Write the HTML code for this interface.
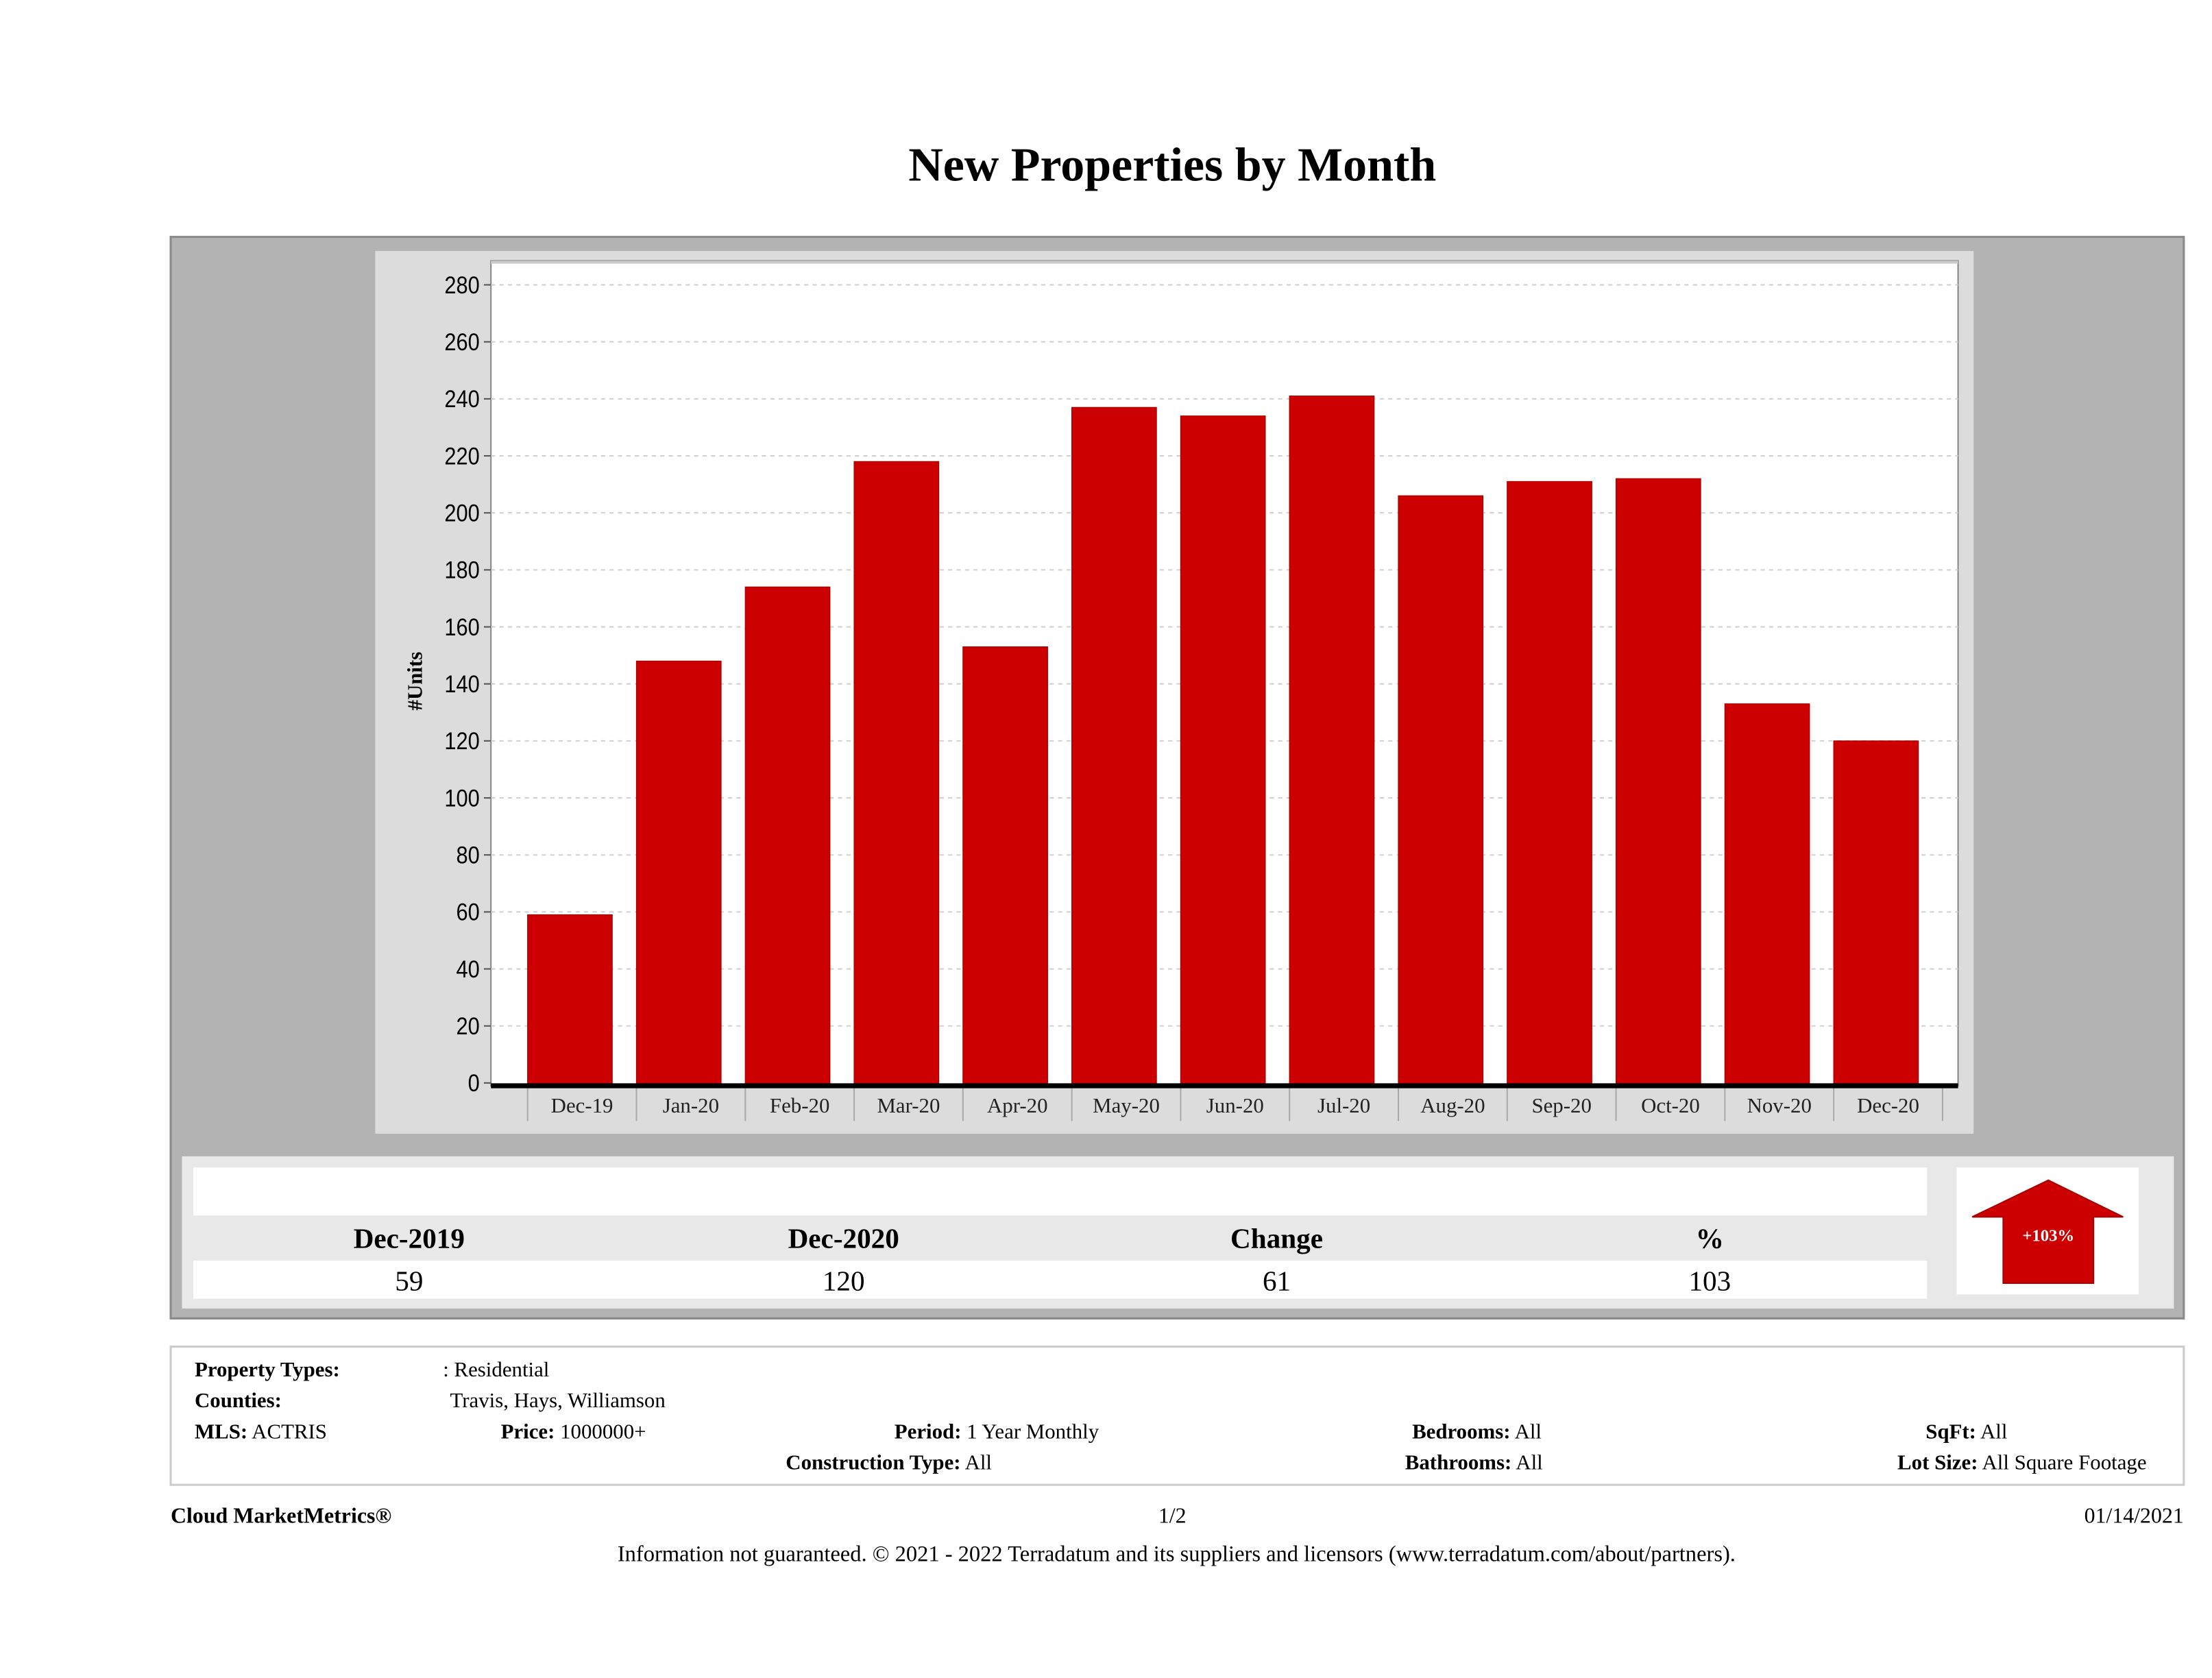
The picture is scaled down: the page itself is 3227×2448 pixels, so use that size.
<!DOCTYPE html>
<html><head><meta charset="utf-8"><style>
html,body{margin:0;padding:0;background:#fff;}
svg{display:block;}
text{font-family:"Liberation Serif",serif;}
.sans{font-family:"Liberation Sans",sans-serif;}
</style></head><body>
<svg id="page" width="3227" height="2448" viewBox="0 0 1568 1190" preserveAspectRatio="none" xmlns="http://www.w3.org/2000/svg">
<text x="831" y="128" text-anchor="middle" font-size="34" font-weight="bold" fill="#000">New Properties by Month</text>
<rect x="121" y="168" width="1427" height="767" fill="#b3b3b3" stroke="#8a8a8a" stroke-width="1.5"/>
<rect x="266" y="178" width="1133" height="626" fill="#dcdcdc"/>
<rect x="348" y="185" width="1040" height="585" fill="#fff" stroke="#888" stroke-width="1"/>
<line x1="348" y1="186" x2="1388" y2="186" stroke="#ccc" stroke-width="2"/>
<g id="grid"></g>
<g id="bars"></g>
<g id="yaxis"></g>
<g id="xaxis"></g>
<text x="0" y="0" transform="translate(299,483) rotate(-90)" text-anchor="middle" font-size="15" font-weight="bold">#Units</text>

<rect x="129" y="820" width="1412" height="108" fill="#e8e8e8"/>
<rect x="137" y="828" width="1229" height="34" fill="#fff"/>
<rect x="137" y="894" width="1229" height="27" fill="#fff"/>
<g font-size="20" font-weight="bold" text-anchor="middle">
<text x="290" y="885">Dec-2019</text>
<text x="598" y="885">Dec-2020</text>
<text x="905" y="885">Change</text>
<text x="1212" y="885">%</text>
</g>
<g font-size="20" text-anchor="middle">
<text x="290" y="915">59</text>
<text x="598" y="915">120</text>
<text x="905" y="915">61</text>
<text x="1212" y="915">103</text>
</g>
<rect x="1387" y="828" width="129" height="90" fill="#fff"/>
<polygon points="1452,837 1505,863 1484,863 1484,910 1420,910 1420,863 1398,863" fill="#cc0000" stroke="#a00" stroke-width="1"/>
<text x="1452" y="880" text-anchor="middle" font-size="12" font-weight="bold" fill="#fff">+103%</text>

<rect x="121" y="955" width="1427" height="98" fill="#fff" stroke="#ccc" stroke-width="1.5"/>
<g font-size="15">
<text x="138" y="976" font-weight="bold">Property Types:</text>
<text x="314" y="976">: Residential</text>
<text x="138" y="998" font-weight="bold">Counties:</text>
<text x="319" y="998">Travis, Hays, Williamson</text>
<text x="138" y="1020"><tspan font-weight="bold">MLS:</tspan>   ACTRIS</text>
<text x="355" y="1020"><tspan font-weight="bold">Price:</tspan> 1000000+</text>
<text x="634" y="1020"><tspan font-weight="bold">Period:</tspan> 1 Year Monthly</text>
<text x="557" y="1042"><tspan font-weight="bold">Construction Type:</tspan> All</text>
<text x="1001" y="1020"><tspan font-weight="bold">Bedrooms:</tspan> All</text>
<text x="996" y="1042"><tspan font-weight="bold">Bathrooms:</tspan> All</text>
<text x="1365" y="1020"><tspan font-weight="bold">SqFt:</tspan> All</text>
<text x="1345" y="1042"><tspan font-weight="bold">Lot Size:</tspan> All Square Footage</text>
</g>
<text x="121" y="1080" font-size="15.5" font-weight="bold">Cloud MarketMetrics®</text>
<text x="831" y="1080" font-size="15.5" text-anchor="middle">1/2</text>
<text x="1548" y="1080" font-size="15.5" text-anchor="end">01/14/2021</text>
<text x="834" y="1107" font-size="15.8" text-anchor="middle">Information not guaranteed. © 2021 - 2022 Terradatum and its suppliers and licensors (www.terradatum.com/about/partners).</text>
</svg>
<script>
const categories = ["Dec-19","Jan-20","Feb-20","Mar-20","Apr-20","May-20","Jun-20","Jul-20","Aug-20","Sep-20","Oct-20","Nov-20","Dec-20"];
const units = [59,148,174,218,153,237,234,241,206,211,212,133,120];
const yTicks = [0,20,40,60,80,100,120,140,160,180,200,220,240,260,280];
const NS = "http://www.w3.org/2000/svg";
const plotL = 348, plotR = 1388, y0px = 768, y280px = 202, firstSep = 374, lastSep = 1377;
function yScale(v){ return y0px - v / 280 * (y0px - y280px); }
const step = (lastSep - firstSep) / categories.length;
function xScale(i){ return firstSep + i * step; }
function mk(tag, attrs, parent){ const e = document.createElementNS(NS, tag); for (const k in attrs) e.setAttribute(k, attrs[k]); parent.appendChild(e); return e; }
const grid = document.getElementById('grid'), bars = document.getElementById('bars'), yax = document.getElementById('yaxis'), xax = document.getElementById('xaxis');
yTicks.forEach(function(t){
  const y = yScale(t);
  if (t > 0) {
    const g = mk('line', {x1: plotL, x2: plotR, y1: y, y2: y, stroke: '#d0d0d0', 'stroke-dasharray': '3,3', 'stroke-width': 1}, grid);
    
    
  }
  mk('line', {x1: plotL - 5, x2: plotL, y1: y, y2: y, stroke: '#555', 'stroke-width': 1}, yax);
  const tx = mk('text', {x: plotL - 8, y: y + 6, 'text-anchor': 'end', 'font-size': 17, class: 'sans', transform: 'translate(' + (plotL - 8) * 0.12 + ',0) scale(0.88,1)'}, yax);
  
  
  tx.textContent = t;
});
categories.forEach(function(c, i){
  const x = xScale(i);
  const r = mk('rect', {x: x, y: yScale(units[i]), width: 60, height: y0px - yScale(units[i]) + 1, fill: '#cc0000', stroke: '#a80000', 'stroke-width': 0.6}, bars);
  
  
  mk('line', {x1: x, x2: x, y1: 771, y2: 795, stroke: '#aaa', 'stroke-width': 1}, xax);
  const lt = mk('text', {x: x + step / 2, y: 789, 'text-anchor': 'middle', 'font-size': 15, fill: '#222'}, xax);
  
  
  lt.textContent = c;
});
mk('line', {x1: xScale(categories.length), x2: xScale(categories.length), y1: 771, y2: 795, stroke: '#aaa', 'stroke-width': 1}, xax);
const base = mk('line', {x1: plotL, x2: plotR, y1: 770, y2: 770, stroke: '#000', 'stroke-width': 3.5}, xax);


</script>
</body></html>
